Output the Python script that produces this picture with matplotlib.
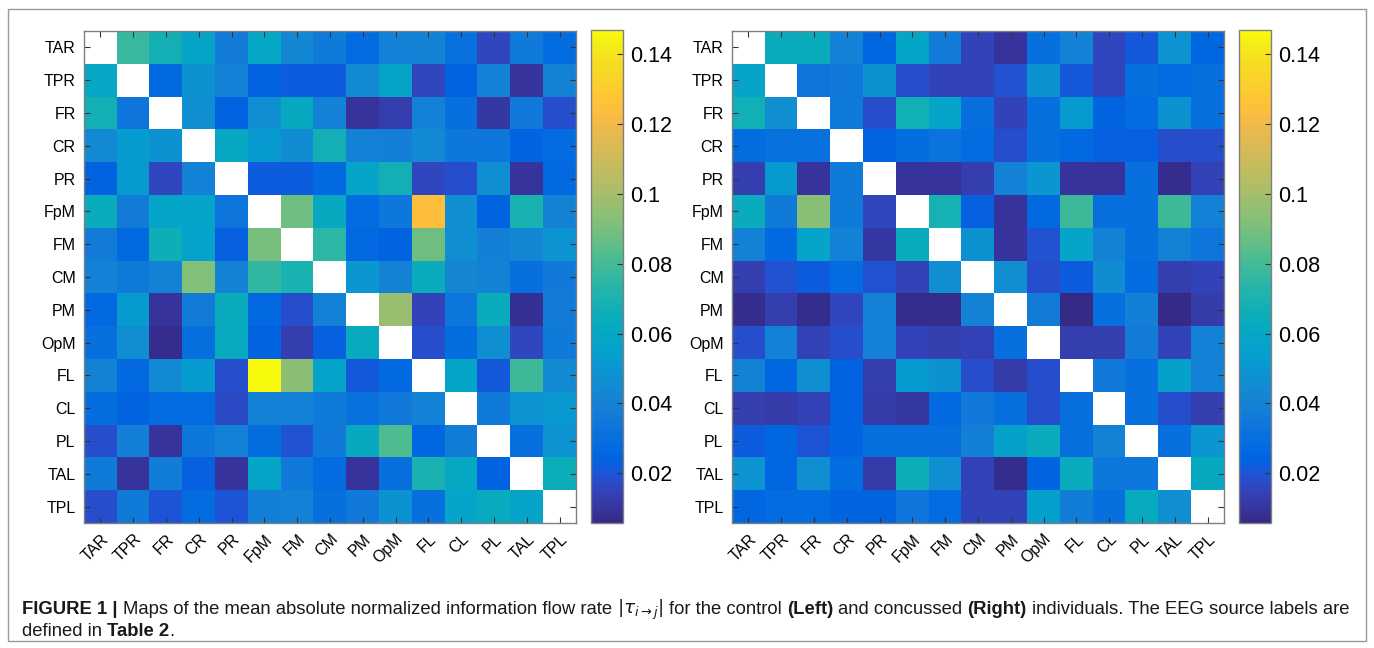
import numpy as np
import matplotlib
matplotlib.use("Agg")
import matplotlib.pyplot as plt
from matplotlib.colors import LinearSegmentedColormap
from matplotlib.patches import Rectangle

plt.rcParams['font.family'] = ['Liberation Sans', 'DejaVu Sans']

labels = ["TAR", "TPR", "FR", "CR", "PR", "FpM", "FM", "CM", "PM", "OpM",
          "FL", "CL", "PL", "TAL", "TPL"]

# control (Left)
control = [
    [np.nan, 0.078, 0.068, 0.058, 0.037, 0.060, 0.043, 0.036, 0.028, 0.040, 0.041, 0.031, 0.016, 0.036, 0.028],
    [0.060, np.nan, 0.027, 0.048, 0.040, 0.024, 0.022, 0.022, 0.044, 0.058, 0.016, 0.024, 0.040, 0.010, 0.041],
    [0.068, 0.033, np.nan, 0.047, 0.024, 0.047, 0.062, 0.040, 0.010, 0.013, 0.040, 0.030, 0.011, 0.035, 0.018],
    [0.044, 0.053, 0.048, np.nan, 0.061, 0.052, 0.045, 0.068, 0.040, 0.039, 0.044, 0.034, 0.034, 0.025, 0.028],
    [0.024, 0.052, 0.016, 0.040, np.nan, 0.022, 0.022, 0.027, 0.058, 0.068, 0.016, 0.018, 0.047, 0.010, 0.027],
    [0.064, 0.037, 0.059, 0.058, 0.033, np.nan, 0.088, 0.062, 0.028, 0.034, 0.125, 0.047, 0.024, 0.070, 0.041],
    [0.037, 0.027, 0.066, 0.057, 0.023, 0.090, np.nan, 0.075, 0.027, 0.024, 0.088, 0.047, 0.039, 0.043, 0.049],
    [0.040, 0.036, 0.041, 0.092, 0.041, 0.076, 0.070, np.nan, 0.050, 0.041, 0.064, 0.042, 0.041, 0.030, 0.035],
    [0.027, 0.052, 0.010, 0.037, 0.064, 0.027, 0.018, 0.040, np.nan, 0.097, 0.015, 0.034, 0.064, 0.008, 0.037],
    [0.030, 0.047, 0.007, 0.030, 0.063, 0.024, 0.013, 0.023, 0.063, np.nan, 0.018, 0.029, 0.047, 0.016, 0.036],
    [0.041, 0.027, 0.044, 0.053, 0.018, 0.147, 0.094, 0.057, 0.021, 0.027, np.nan, 0.059, 0.021, 0.079, 0.044],
    [0.029, 0.025, 0.028, 0.028, 0.017, 0.040, 0.040, 0.036, 0.031, 0.035, 0.040, np.nan, 0.036, 0.049, 0.051],
    [0.018, 0.039, 0.010, 0.034, 0.040, 0.029, 0.019, 0.035, 0.062, 0.082, 0.026, 0.038, np.nan, 0.030, 0.049],
    [0.036, 0.010, 0.038, 0.023, 0.010, 0.059, 0.035, 0.028, 0.010, 0.030, 0.070, 0.061, 0.024, np.nan, 0.065],
    [0.018, 0.036, 0.020, 0.028, 0.020, 0.039, 0.040, 0.030, 0.035, 0.048, 0.030, 0.058, 0.063, 0.058, np.nan],
]

# concussed (Right)
concussed = [
    [np.nan, 0.064, 0.064, 0.040, 0.026, 0.059, 0.037, 0.015, 0.010, 0.030, 0.040, 0.016, 0.021, 0.049, 0.026],
    [0.058, np.nan, 0.033, 0.035, 0.048, 0.018, 0.015, 0.015, 0.019, 0.048, 0.021, 0.016, 0.030, 0.028, 0.030],
    [0.067, 0.046, np.nan, 0.036, 0.018, 0.067, 0.058, 0.030, 0.015, 0.030, 0.052, 0.025, 0.028, 0.048, 0.030],
    [0.028, 0.031, 0.031, np.nan, 0.024, 0.029, 0.032, 0.028, 0.018, 0.030, 0.027, 0.023, 0.023, 0.018, 0.018],
    [0.013, 0.052, 0.010, 0.036, np.nan, 0.010, 0.010, 0.013, 0.040, 0.050, 0.010, 0.010, 0.030, 0.007, 0.014],
    [0.064, 0.036, 0.093, 0.036, 0.016, np.nan, 0.069, 0.023, 0.010, 0.027, 0.079, 0.030, 0.030, 0.079, 0.040],
    [0.040, 0.027, 0.058, 0.040, 0.011, 0.064, np.nan, 0.048, 0.010, 0.019, 0.058, 0.041, 0.030, 0.041, 0.033],
    [0.013, 0.019, 0.022, 0.028, 0.019, 0.015, 0.046, np.nan, 0.046, 0.018, 0.022, 0.045, 0.028, 0.013, 0.015],
    [0.007, 0.013, 0.007, 0.016, 0.040, 0.007, 0.007, 0.041, np.nan, 0.037, 0.006, 0.030, 0.039, 0.006, 0.012],
    [0.018, 0.040, 0.014, 0.018, 0.040, 0.015, 0.013, 0.014, 0.030, np.nan, 0.013, 0.013, 0.037, 0.015, 0.040],
    [0.041, 0.026, 0.047, 0.024, 0.013, 0.052, 0.048, 0.018, 0.012, 0.018, np.nan, 0.035, 0.030, 0.056, 0.040],
    [0.013, 0.012, 0.014, 0.024, 0.012, 0.011, 0.027, 0.035, 0.030, 0.018, 0.030, np.nan, 0.030, 0.018, 0.013],
    [0.022, 0.026, 0.020, 0.025, 0.030, 0.030, 0.030, 0.039, 0.056, 0.064, 0.030, 0.041, np.nan, 0.030, 0.050],
    [0.049, 0.026, 0.047, 0.028, 0.012, 0.066, 0.046, 0.014, 0.007, 0.025, 0.064, 0.034, 0.034, np.nan, 0.062],
    [0.026, 0.028, 0.028, 0.025, 0.024, 0.033, 0.028, 0.015, 0.015, 0.055, 0.038, 0.030, 0.063, 0.046, np.nan],
]

cbar_ticks = [0.02, 0.04, 0.06, 0.08, 0.1, 0.12, 0.14]
cbar_ticklabels = ["0.02", "0.04", "0.06", "0.08", "0.1", "0.12", "0.14"]
vmin, vmax = 0.0057, 0.147

# MATLAB parula colormap (styling)
parula_rgb = [
    [0.2081, 0.1663, 0.5292], [0.2116, 0.1898, 0.5777], [0.2123, 0.2138, 0.6270], [0.2081, 0.2386, 0.6771],
    [0.1959, 0.2645, 0.7279], [0.1707, 0.2919, 0.7792], [0.1253, 0.3242, 0.8303], [0.0591, 0.3598, 0.8683],
    [0.0117, 0.3875, 0.8820], [0.0060, 0.4086, 0.8828], [0.0165, 0.4266, 0.8786], [0.0329, 0.4430, 0.8720],
    [0.0498, 0.4586, 0.8641], [0.0629, 0.4737, 0.8554], [0.0723, 0.4887, 0.8467], [0.0779, 0.5040, 0.8384],
    [0.0793, 0.5200, 0.8312], [0.0749, 0.5375, 0.8263], [0.0641, 0.5570, 0.8240], [0.0488, 0.5772, 0.8228],
    [0.0343, 0.5966, 0.8199], [0.0265, 0.6137, 0.8135], [0.0239, 0.6287, 0.8038], [0.0231, 0.6418, 0.7913],
    [0.0228, 0.6535, 0.7768], [0.0267, 0.6642, 0.7607], [0.0384, 0.6743, 0.7436], [0.0590, 0.6838, 0.7254],
    [0.0843, 0.6928, 0.7062], [0.1133, 0.7015, 0.6859], [0.1453, 0.7098, 0.6646], [0.1801, 0.7177, 0.6424],
    [0.2178, 0.7250, 0.6193], [0.2586, 0.7317, 0.5954], [0.3022, 0.7376, 0.5712], [0.3482, 0.7424, 0.5473],
    [0.3953, 0.7459, 0.5244], [0.4420, 0.7481, 0.5033], [0.4871, 0.7491, 0.4840], [0.5300, 0.7491, 0.4661],
    [0.5709, 0.7485, 0.4494], [0.6099, 0.7473, 0.4337], [0.6473, 0.7456, 0.4188], [0.6834, 0.7435, 0.4044],
    [0.7184, 0.7411, 0.3905], [0.7525, 0.7384, 0.3768], [0.7858, 0.7356, 0.3633], [0.8185, 0.7327, 0.3498],
    [0.8507, 0.7299, 0.3360], [0.8824, 0.7274, 0.3217], [0.9139, 0.7258, 0.3063], [0.9450, 0.7261, 0.2886],
    [0.9739, 0.7314, 0.2666], [0.9938, 0.7455, 0.2403], [0.9990, 0.7653, 0.2164], [0.9955, 0.7861, 0.1967],
    [0.9880, 0.8066, 0.1794], [0.9789, 0.8271, 0.1633], [0.9697, 0.8481, 0.1475], [0.9626, 0.8705, 0.1309],
    [0.9589, 0.8949, 0.1132], [0.9598, 0.9218, 0.0948], [0.9661, 0.9514, 0.0755], [0.9763, 0.9831, 0.0538],
]
parula = LinearSegmentedColormap.from_list("parula", parula_rgb, N=256)
parula.set_bad("white")

W, H = 1374, 648
fig = plt.figure(figsize=(W / 100, H / 100), dpi=100)
fig.patch.set_facecolor("white")


def rect(x0, y0, x1, y1):
    return [x0 / W, 1 - y1 / H, (x1 - x0) / W, (y1 - y0) / H]


edge = "#7f7f7f"


def draw_map(axr, caxr, data):
    ax = fig.add_axes(rect(*axr))
    cax = fig.add_axes(rect(*caxr))
    m = np.ma.masked_invalid(np.array(data, dtype=float))
    im = ax.imshow(m, cmap=parula, vmin=vmin, vmax=vmax, interpolation="nearest", aspect="auto")
    n = len(labels)
    ax.set_xticks(range(n))
    ax.set_yticks(range(n))
    ax.set_xticklabels(labels, rotation=45, ha="right", va="top", rotation_mode="anchor", fontsize=11.5)
    ax.set_yticklabels(labels, fontsize=11.5)
    ax.tick_params(direction="in", length=4, width=0.8, color="#333333",
                   top=True, right=True, labeltop=False, labelright=False, pad=6)
    for sp in ax.spines.values():
        sp.set_color(edge)
        sp.set_linewidth(1.0)
    cb = fig.colorbar(im, cax=cax, ticks=cbar_ticks)
    cb.ax.set_yticklabels(cbar_ticklabels, fontsize=15.5)
    cb.ax.tick_params(direction="in", length=4, width=0.8, color="#333333", pad=5)
    cb.outline.set_edgecolor(edge)
    cb.outline.set_linewidth(1.0)
    return ax


draw_map((84, 31, 576, 523), (591, 30, 623, 523), control)
draw_map((732, 31, 1224, 523), (1239, 30, 1271, 523), concussed)

# figure border
fig.patches.append(Rectangle((7.5 / W, 1 - 640.5 / H), (1366 - 7.5) / W, (640.5 - 9) / H,
                             transform=fig.transFigure, fill=False, edgecolor="#9a9a9a", linewidth=1.0))

# caption with mixed styles
fig.canvas.draw()
renderer = fig.canvas.get_renderer()
fs = 13.3
tcol = "#1a1a1a"


def width_of(s, weight):
    t = fig.text(0, 0, s, fontsize=fs, fontweight=weight)
    w = t.get_window_extent(renderer).width
    t.remove()
    return w


space = width_of("a a", "normal") - width_of("aa", "normal")


def rich_line(x, y, pieces):
    for s, weight, gap_before in pieces:
        x += space * gap_before
        t = fig.text(x / W, 1 - y / H, s, fontsize=fs, fontweight=weight, color=tcol,
                     ha="left", va="baseline")
        x += t.get_window_extent(renderer).width


rich_line(22, 614, [
    ("FIGURE 1 |", "bold", 0),
    ("Maps of the mean absolute normalized information flow rate", "normal", 1),
    (r"$|\tau_{i\rightarrow j}|$", "normal", 1),
    ("for the control", "normal", 1),
    ("(Left)", "bold", 1),
    ("and concussed", "normal", 1),
    ("(Right)", "bold", 1),
    ("individuals. The EEG source labels are", "normal", 1),
])
rich_line(22, 636, [
    ("defined in", "normal", 0),
    ("Table 2", "bold", 1),
    (".", "normal", 0),
])

fig.savefig("out.png", dpi=100)
